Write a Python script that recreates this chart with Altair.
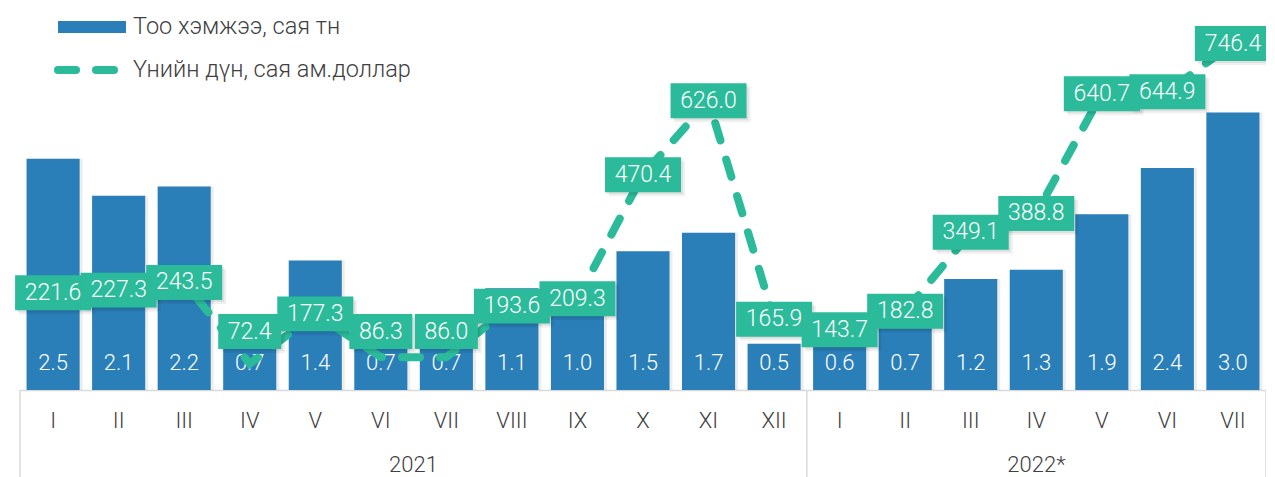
import altair as alt
import pandas as pd

# ---------------- data ----------------
months_2021 = ["I", "II", "III", "IV", "V", "VI", "VII", "VIII", "IX", "X", "XI", "XII"]
months_2022 = ["I", "II", "III", "IV", "V", "VI", "VII"]
years = ["2021", "2022*"]
quantity = [2.5, 2.1, 2.2, 0.7, 1.4, 0.7, 0.7, 1.1, 1.0, 1.5, 1.7, 0.5,
            0.6, 0.7, 1.2, 1.3, 1.9, 2.4, 3.0]
value = [221.6, 227.3, 243.5, 72.4, 177.3, 86.3, 86.0, 193.6, 209.3, 470.4, 626.0, 165.9,
         143.7, 182.8, 349.1, 388.8, 640.7, 644.9, 746.4]
legend_labels = ["Тоо хэмжээ, сая тн", "Үнийн дүн, сая ам.доллар"]

keys = [f"2021-{m}" for m in months_2021] + [f"2022-{m}" for m in months_2022]
df = pd.DataFrame({"key": keys, "qty": quantity, "value": value})
df["qty_lbl"] = [f"{q:.1f}" for q in quantity]
df["val_lbl"] = [f"{v:.1f}" for v in value]

# ---------------- style / layout ----------------
W, H = 1246, 370
BLUE = "#2a7fb9"
GREEN = "#2bbb9a"
TXT = "#404040"
GRID = "#d9d9d9"
FONT = "Roboto"
P_IN, P_OUT = 0.19, 0.10
n = len(keys)
step = W / (n - P_IN + 2 * P_OUT)
sep_x = P_OUT * step + len(months_2021) * step - P_IN * step / 2

x_enc = alt.X(
    "key:N", sort=keys,
    scale=alt.Scale(paddingInner=P_IN, paddingOuter=P_OUT),
    axis=alt.Axis(title=None, labelExpr="split(datum.label, '-')[1]",
                  ticks=False, tickSize=0, labelPadding=30, labelBaseline="middle",
                  labelAngle=0, labelFontSize=22, labelFont=FONT, labelFontWeight=300,
                  labelColor=TXT, domainColor=GRID, domainWidth=1.5, grid=False),
)
line_scale = alt.Scale(domain=[17, 796])
bar_y = alt.Y("qty:Q", scale=alt.Scale(domain=[0, 4]), axis=None)

bar_shadow = alt.Chart(df).mark_bar(color="black", opacity=0.07, xOffset=3).encode(
    x=x_enc, y=bar_y)
bars = alt.Chart(df).mark_bar(color=BLUE).encode(x=x_enc, y=bar_y)
bar_text = alt.Chart(df).mark_text(
    color="white", fontSize=22, font=FONT, fontWeight=300, baseline="middle"
).encode(x=x_enc, y=alt.value(343), text="qty_lbl:N")

line = alt.Chart(df).mark_line(
    color=GREEN, strokeWidth=8, strokeDash=[18, 20], strokeCap="round"
).encode(x=x_enc, y=alt.Y("value:Q", scale=line_scale, axis=None))

lbl_base = alt.Chart(df).transform_calculate(ly="max(datum.value, 140)")
ly_enc = alt.Y("ly:Q", scale=line_scale, axis=None)
SHAPE5, SIZE5 = "M-1,-0.46H1V0.46H-1Z", 5776
SHAPE4, SIZE4 = "M-1,-0.556H1V0.556H-1Z", 3969


def boxes(shape, size, nchar, color, opacity, dx=0, dy=0):
    return lbl_base.transform_filter(f"length(datum.val_lbl) == {nchar}").mark_point(
        shape=shape, size=size, filled=True, opacity=opacity, color=color,
        strokeWidth=0, xOffset=dx, yOffset=dy
    ).encode(x=x_enc, y=ly_enc)


shadows = [
    boxes(SHAPE5, SIZE5, 5, "black", 0.06, 4, 4),
    boxes(SHAPE4, SIZE4, 4, "black", 0.06, 4, 4),
    boxes(SHAPE5, SIZE5, 5, "black", 0.07, 2, 2),
    boxes(SHAPE4, SIZE4, 4, "black", 0.07, 2, 2),
]
box5 = boxes(SHAPE5, SIZE5, 5, GREEN, 1)
box4 = boxes(SHAPE4, SIZE4, 4, GREEN, 1)
val_text = lbl_base.mark_text(
    color="white", fontSize=23, font=FONT, fontWeight=300, baseline="middle"
).encode(x=x_enc, y=ly_enc, text="val_lbl:N")

# ---------------- legend (custom) ----------------
leg_df1 = pd.DataFrame({"t": [legend_labels[0]]})
leg_df2 = pd.DataFrame({"t": [legend_labels[1]]})
leg_rect = alt.Chart(leg_df1).mark_rect(color=BLUE).encode(
    x=alt.value(38), x2=alt.value(106), y=alt.value(1), y2=alt.value(13))
leg_t1 = alt.Chart(leg_df1).mark_text(
    align="left", baseline="middle", fontSize=23.5, font=FONT, fontWeight=300, color=TXT
).encode(x=alt.value(113), y=alt.value(7), text="t:N")
leg_line = alt.Chart(leg_df2).mark_rule(
    color=GREEN, strokeWidth=8, strokeDash=[18, 20], strokeCap="round"
).encode(x=alt.value(38), x2=alt.value(95), y=alt.value(50))
leg_t2 = alt.Chart(leg_df2).mark_text(
    align="left", baseline="middle", fontSize=23.5, font=FONT, fontWeight=300, color=TXT
).encode(x=alt.value(113), y=alt.value(50), text="t:N")

# ---------------- axis box separators & year labels ----------------
seps = []
for sx in [0, sep_x, W]:
    seps.append(alt.Chart(pd.DataFrame({"s": [sx]})).mark_rule(
        color=GRID, strokeWidth=1.5
    ).encode(x=alt.value(sx), y=alt.value(H), y2=alt.value(H + 100)))

year_x = [sep_x / 2, (sep_x + W) / 2]
year_marks = []
for yx, yl in zip(year_x, years):
    year_marks.append(alt.Chart(pd.DataFrame({"y": [yl]})).mark_text(
        fontSize=22, font=FONT, fontWeight=300, color=TXT, baseline="middle"
    ).encode(x=alt.value(yx), y=alt.value(H + 75), text="y:N"))

chart = alt.layer(
    bar_shadow, bars, bar_text, line, *shadows, box5, box4, val_text,
    leg_rect, leg_t1, leg_line, leg_t2, *seps, *year_marks
).resolve_scale(y="independent").properties(
    width=W, height=H,
    padding={"left": 12, "top": 12, "right": 0, "bottom": 87},
    autosize=alt.AutoSizeParams(type="none"),
).configure_view(stroke=None)

chart.save("out.html", embed_options={"renderer": "svg", "actions": False})
